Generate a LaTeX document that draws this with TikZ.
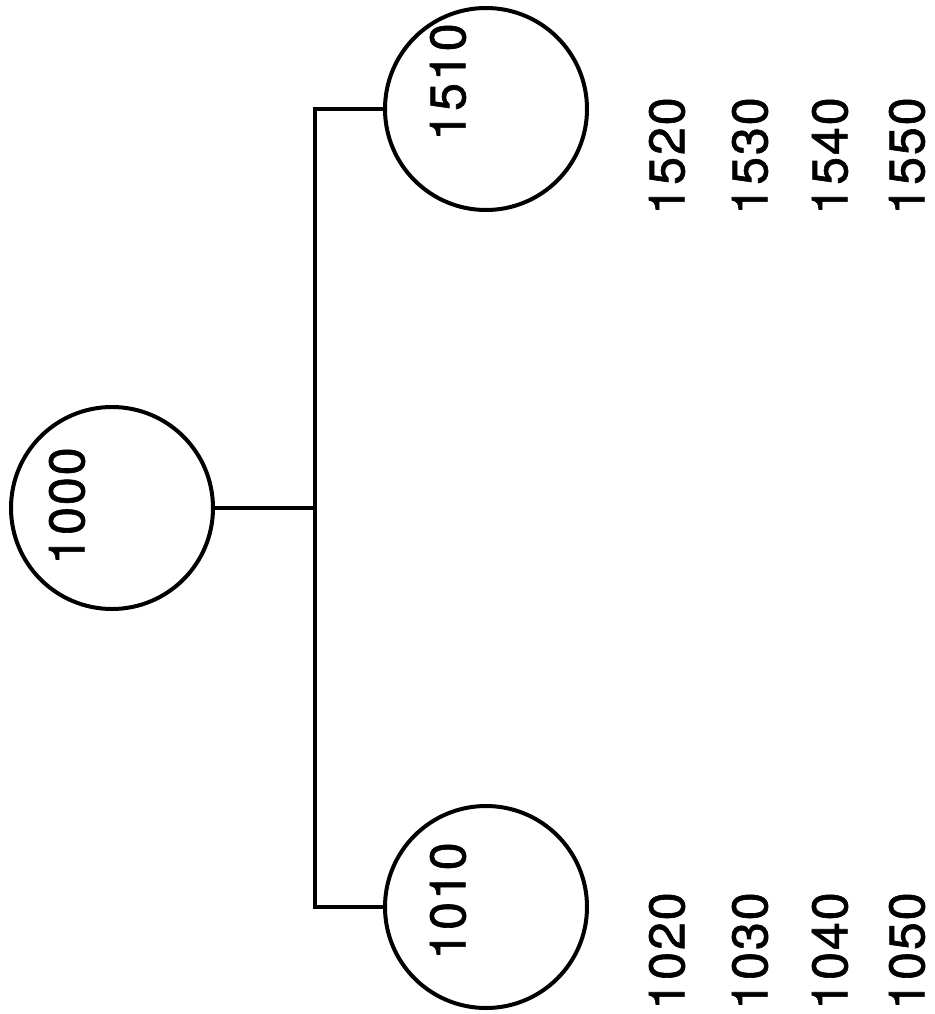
\documentclass[tikz,border=0pt]{standalone}
\usepackage{fontspec}
\setmainfont{TeX Gyre Heros}[FakeBold=1.2, LetterSpace=4]
\begin{document}
\begin{tikzpicture}[x=1pt,y=-1pt,
  bub/.style={draw, circle, line width=4pt, minimum size=202pt, inner sep=0pt},
  lab/.style={rotate=90, inner sep=0pt, font=\fontsize{50}{60}\selectfont},
  wire/.style={line width=3.6pt}]
\useasboundingbox (0,0) rectangle (934,1014);
\fill[white] (0,0) rectangle (934,1014);
% circles
\node[bub] (n1000) at (112,508) {};
\node[bub] (n1510) at (486,109) {};
\node[bub] (n1010) at (486,907) {};
% labels inside circles
\node[lab] (t1000) at (67,506) {1000};
\node[lab] (t1510) at (448,82) {1510};
\node[lab] (t1010) at (448,901) {1010};
% side labels
\node[lab] (t1520) at (667,156) {1520};
\node[lab] (t1530) at (750,156) {1530};
\node[lab] (t1540) at (830,156) {1540};
\node[lab] (t1550) at (907,156) {1550};
\node[lab] (t1020) at (667,951) {1020};
\node[lab] (t1030) at (750,951) {1030};
\node[lab] (t1040) at (830,951) {1040};
\node[lab] (t1050) at (907,951) {1050};
% connectors
\coordinate (bus) at (315,508);
\draw[wire] (n1000.east) -- (bus);
\draw[wire] (n1510.west) -| (bus) |- (n1010.west);
\end{tikzpicture}
\end{document}
